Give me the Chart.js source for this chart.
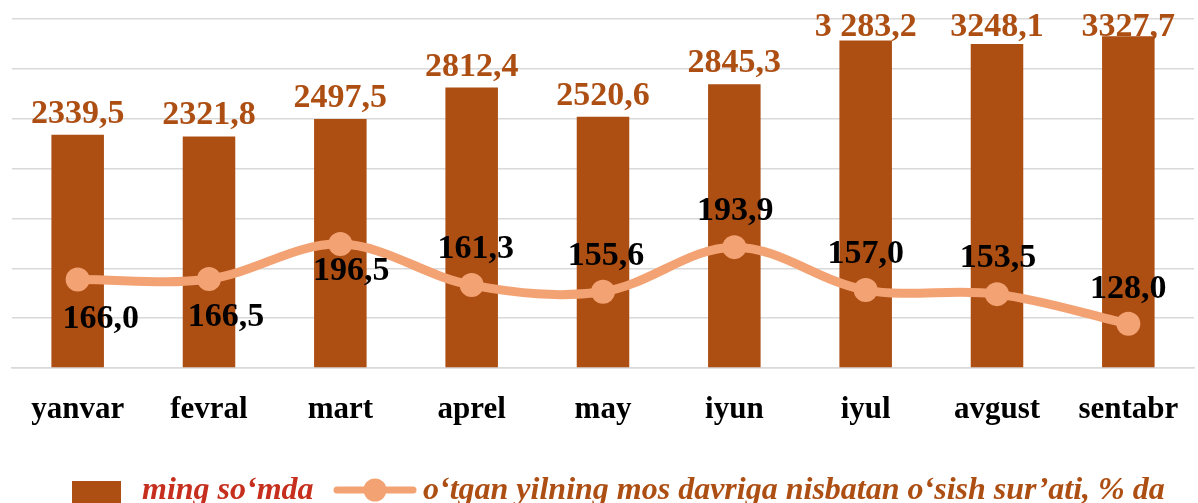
<!DOCTYPE html>
<html>
<head>
<meta charset="utf-8">
<script src="https://cdn.jsdelivr.net/npm/chart.js@4/dist/chart.umd.min.js"></script>
<style>
  html, body { margin: 0; padding: 0; background: #fff; overflow: hidden; }
  #wrap { width: 1206px; height: 503px; }
</style>
</head>
<body>
<div id="wrap"><canvas id="chart" width="1206" height="503"></canvas></div>
<script>
// data
const months = ['yanvar', 'fevral', 'mart', 'aprel', 'may', 'iyun', 'iyul', 'avgust', 'sentabr'];
const amountValues = [2339.5, 2321.8, 2497.5, 2812.4, 2520.6, 2845.3, 3283.2, 3248.1, 3327.7];
const amountLabels = ['2339,5', '2321,8', '2497,5', '2812,4', '2520,6', '2845,3', '3 283,2', '3248,1', '3327,7'];
const growthValues = [166.0, 166.5, 196.5, 161.3, 155.6, 193.9, 157.0, 153.5, 128.0];
const growthLabels = ['166,0', '166,5', '196,5', '161,3', '155,6', '193,9', '157,0', '153,5', '128,0'];
const seriesNames = ['ming so‘mda', 'o‘tgan yilning mos davriga nisbatan o‘sish sur’ati, % da'];

const BAR = '#AD4E13';
const LINE = '#F3A373';
const SERIF = '"Liberation Serif", "Times New Roman", serif';

// where each growth label sits, relative to its point (baseline)
const growthOffsets = [[23, 48], [17, 47], [11, 36], [4, -27], [3, -27], [1, -27], [0, -27], [1, -27], [0, -26]];

const valueLabels = {
    id: 'valueLabels',
    afterDatasetsDraw(chart) {
        const {ctx} = chart;
        ctx.save();
        ctx.textAlign = 'center';
        ctx.textBaseline = 'alphabetic';

        ctx.font = 'bold 34px ' + SERIF;
        ctx.fillStyle = BAR;
        chart.getDatasetMeta(0).data.forEach((bar, i) => {
            const y = Math.max(bar.y - 12, 36);
            ctx.fillText(amountLabels[i], bar.x, y);
        });

        ctx.fillStyle = '#000';
        chart.getDatasetMeta(1).data.forEach((pt, i) => {
            const [dx, dy] = growthOffsets[i];
            ctx.fillText(growthLabels[i], pt.x + dx, pt.y + dy);
        });
        ctx.restore();
    }
};

const bottomLegend = {
    id: 'bottomLegend',
    afterDraw(chart) {
        const {ctx} = chart;
        ctx.save();
        ctx.fillStyle = BAR;
        ctx.fillRect(72, 481, 49, 49);

        ctx.font = 'italic bold 32px ' + SERIF;
        ctx.textBaseline = 'alphabetic';
        ctx.fillStyle = '#C62F1E';
        ctx.fillText(seriesNames[0], 142, 499);

        ctx.strokeStyle = LINE;
        ctx.lineWidth = 7;
        ctx.lineCap = 'round';
        ctx.beginPath();
        ctx.moveTo(337, 490);
        ctx.lineTo(413, 490);
        ctx.stroke();
        ctx.fillStyle = LINE;
        ctx.beginPath();
        ctx.arc(375, 490, 11.5, 0, Math.PI * 2);
        ctx.fill();

        ctx.fillStyle = BAR;
        ctx.fillText(seriesNames[1], 423, 499);
        ctx.restore();
    }
};

new Chart(document.getElementById('chart'), {
    data: {
        labels: months,
        datasets: [{
            type: 'bar',
            label: seriesNames[0],
            data: amountValues,
            backgroundColor: BAR,
            barPercentage: 0.4,
            categoryPercentage: 1,
            yAxisID: 'y',
            order: 2
        }, {
            type: 'line',
            label: seriesNames[1],
            data: growthValues,
            borderColor: LINE,
            backgroundColor: LINE,
            borderWidth: 9,
            tension: 0.35,
            pointRadius: 12,
            pointBorderWidth: 0,
            pointBackgroundColor: LINE,
            yAxisID: 'y1',
            order: 1
        }]
    },
    options: {
        responsive: false,
        animation: false,
        layout: { padding: { top: 19, left: 10, right: 1, bottom: 0 } },
        plugins: {
            legend: { display: false },
            tooltip: { enabled: false }
        },
        scales: {
            x: {
                grid: { display: false, drawTicks: false },
                border: { color: '#D9D9D9', width: 1.5 },
                ticks: {
                    color: '#000',
                    padding: 23,
                    font: { family: SERIF, size: 31, weight: 'bold' }
                },
                afterFit(s) { s.height = 135; }
            },
            y: {
                min: 0,
                max: 3500,
                ticks: { display: false, stepSize: 500 },
                grid: { color: '#D9D9D9', lineWidth: 1.5, drawTicks: false },
                border: { display: false },
                afterFit(s) { s.width = 0; }
            },
            y1: {
                display: false,
                min: 90,
                max: 390
            }
        }
    },
    plugins: [valueLabels, bottomLegend]
});
</script>
</body>
</html>
